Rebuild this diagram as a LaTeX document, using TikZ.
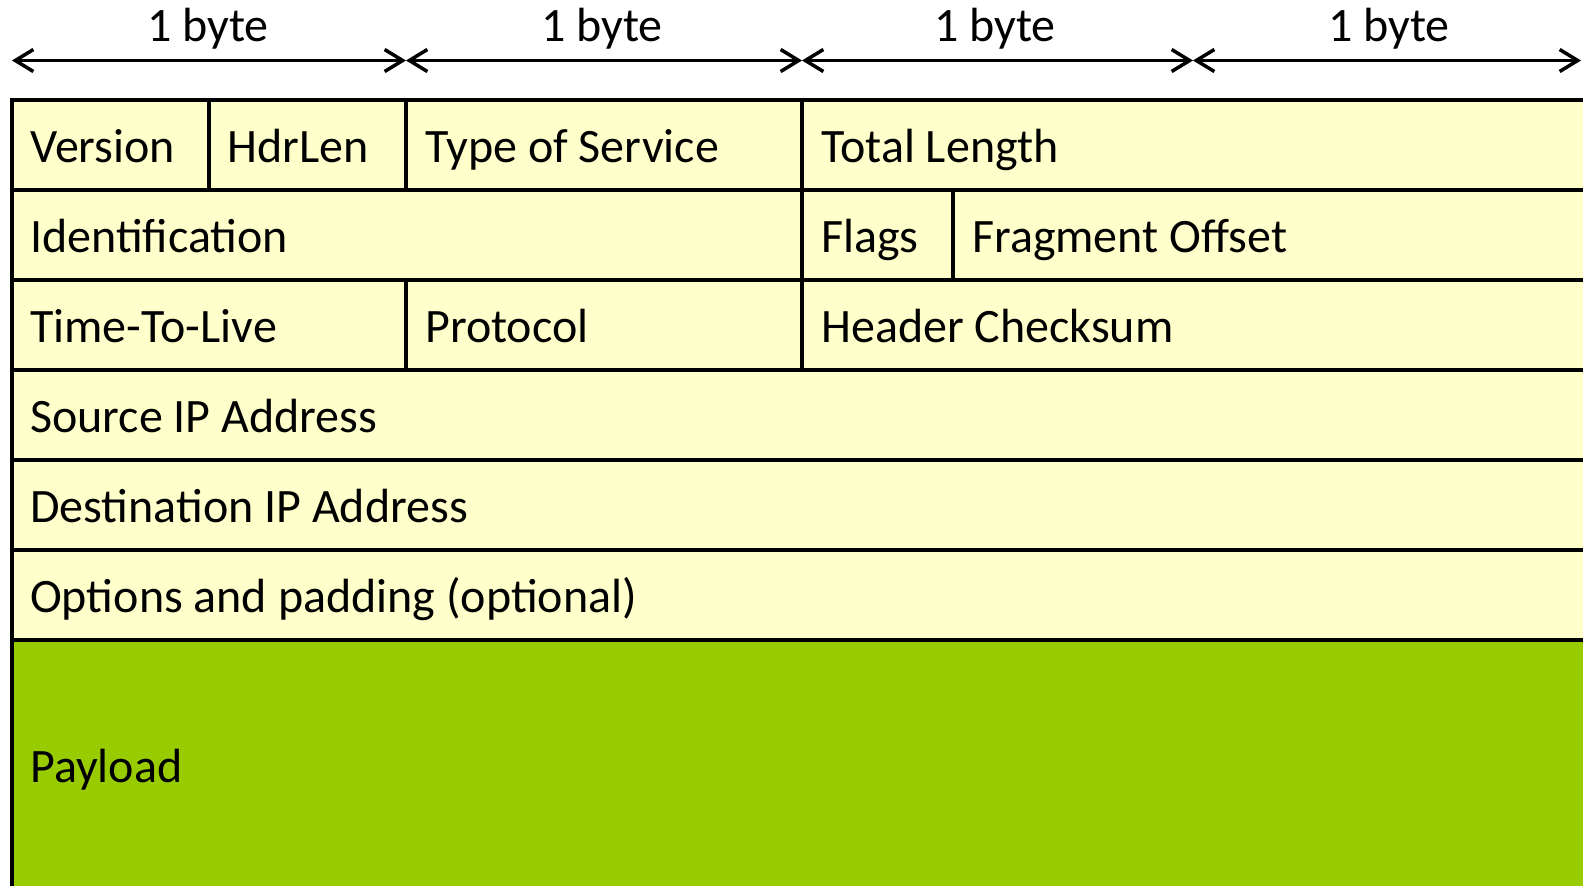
\documentclass[tikz,border=0pt]{standalone}
\usepackage{fontspec}
\setmainfont{Carlito}
\usetikzlibrary{arrows.meta}
\definecolor{hdrfill}{HTML}{FFFFCC}
\definecolor{payfill}{HTML}{99CC00}
\newcommand\ipcell[6]{\node[cellbox, fill=#6, anchor=north west, minimum width=#4pt, minimum height=#5pt] (#1) at (#2,#3) {};}
\begin{document}
\begin{tikzpicture}[x=1pt,y=-1pt,
  cellbox/.style={draw=black, line width=3.5pt, inner sep=0pt, outer sep=0pt},
  lbl/.style={anchor=base west, inner sep=0pt, font=\fontsize{48}{52}\selectfont},
  toplbl/.style={anchor=base, inner sep=0pt, font=\fontsize{48}{52}\selectfont},
  dimarrow/.style={line width=3.5pt, {Straight Barb[length=18pt,width=22pt]}-{Straight Barb[length=18pt,width=22pt]}}]
\useasboundingbox (0,0) rectangle (1583,886);
\clip (0,0) rectangle (1583,886);
% byte dimension arrows
\coordinate (a0) at (12,60.5);
\coordinate (a1) at (406,60.5);
\coordinate (a2) at (802,60.5);
\coordinate (a3) at (1193,60.5);
\coordinate (a4) at (1581,60.5);
\draw[dimarrow] (a0) -- (a1);
\draw[dimarrow] (a1) -- (a2);
\draw[dimarrow] (a2) -- (a3);
\draw[dimarrow] (a3) -- (a4);
\node[toplbl] (b1) at (208,41) {1 byte};
\node[toplbl] (b2) at (602,41) {1 byte};
\node[toplbl] (b3) at (995,41) {1 byte};
\node[toplbl] (b4) at (1389,41) {1 byte};
% row 1
\ipcell{ver}{12}{100}{197}{90}{hdrfill}
\ipcell{hl}{209}{100}{197}{90}{hdrfill}
\ipcell{tos}{406}{100}{396}{90}{hdrfill}
\ipcell{tl}{802}{100}{798}{90}{hdrfill}
% row 2
\ipcell{id}{12}{190}{790}{90}{hdrfill}
\ipcell{fl}{802}{190}{151}{90}{hdrfill}
\ipcell{fo}{953}{190}{647}{90}{hdrfill}
% row 3
\ipcell{ttl}{12}{280}{394}{90}{hdrfill}
\ipcell{pr}{406}{280}{396}{90}{hdrfill}
\ipcell{hc}{802}{280}{798}{90}{hdrfill}
% rows 4-6
\ipcell{src}{12}{370}{1588}{90}{hdrfill}
\ipcell{dst}{12}{460}{1588}{90}{hdrfill}
\ipcell{opt}{12}{550}{1588}{90}{hdrfill}
% payload
\ipcell{pl}{12}{640}{1588}{260}{payfill}
% labels
\node[lbl] (tver) at (30,162) {Version};
\node[lbl] (thl) at (227,162) {HdrLen};
\node[lbl] (ttos) at (425,162) {Type of Service};
\node[lbl] (ttl) at (821,162) {Total Length};
\node[lbl] (tid) at (30,252) {Identification};
\node[lbl] (tfl) at (821,252) {Flags};
\node[lbl] (tfo) at (972,252) {Fragment Offset};
\node[lbl] (tttl) at (30,342) {Time-To-Live};
\node[lbl] (tpr) at (425,342) {Protocol};
\node[lbl] (thc) at (821,342) {Header Checksum};
\node[lbl] (tsrc) at (30,432) {Source IP Address};
\node[lbl] (tdst) at (30,522) {Destination IP Address};
\node[lbl] (topt) at (30,612) {Options and padding (optional)};
\node[lbl] (tpl) at (30,782) {Payload};
\end{tikzpicture}
\end{document}
